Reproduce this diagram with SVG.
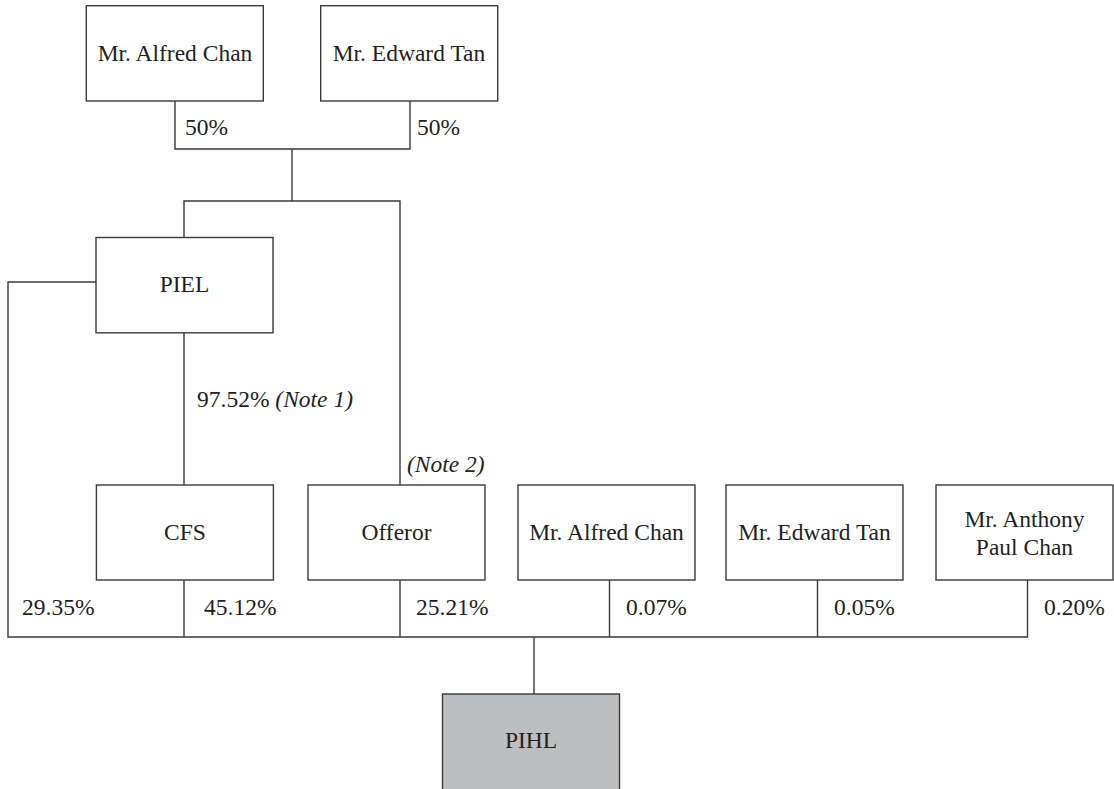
<svg xmlns="http://www.w3.org/2000/svg" width="1114" height="789" viewBox="0 0 1114 789">
<style>
.box{fill:#fff;stroke:#3a3a3a;stroke-width:1.4}
.hl{fill:#bcbec0}
.t{font-family:"Liberation Serif",serif;font-size:23.5px;fill:#231f20}
.m{text-anchor:middle}
.i{font-style:italic}
.c{fill:none;stroke:#3a3a3a;stroke-width:1.4}
</style>
<rect width="1114" height="789" fill="#fff"/>
<g id="connectors" class="c">
<polyline points="175,101 175,149 410,149 410,101"/>
<line x1="292" y1="149" x2="292" y2="201"/>
<polyline points="184,237.5 184,201 400,201 400,485"/>
<polyline points="96,282 8,282 8,637 1027.5,637 1027.5,580"/>
<line x1="184" y1="333" x2="184" y2="485"/>
<line x1="184" y1="580" x2="184" y2="637"/>
<line x1="400" y1="580" x2="400" y2="637"/>
<line x1="609.5" y1="580" x2="609.5" y2="637"/>
<line x1="817.5" y1="580" x2="817.5" y2="637"/>
<line x1="534" y1="637" x2="534" y2="694"/>
</g>
<g id="labels" class="t">
<text x="185" y="135">50%</text>
<text x="417" y="135">50%</text>
<text x="197" y="407">97.52% <tspan class="i">(Note 1)</tspan></text>
<text x="407" y="472" class="i">(Note 2)</text>
<text x="22" y="615">29.35%</text>
<text x="204" y="615">45.12%</text>
<text x="416" y="615">25.21%</text>
<text x="626" y="615">0.07%</text>
<text x="834" y="615">0.05%</text>
<text x="1044" y="615">0.20%</text>
</g>
<g id="n-alfred-top"><rect class="box" x="86.3" y="5.7" width="177" height="95.3"/><text class="t m" x="175" y="61">Mr. Alfred Chan</text></g>
<g id="n-edward-top"><rect class="box" x="320.7" y="5.7" width="177" height="95.3"/><text class="t m" x="409" y="61">Mr. Edward Tan</text></g>
<g id="n-piel"><rect class="box" x="96" y="237.5" width="177" height="95.3"/><text class="t m" x="184.5" y="292">PIEL</text></g>
<g id="n-cfs"><rect class="box" x="96.4" y="485" width="177" height="95"/><text class="t m" x="185" y="540">CFS</text></g>
<g id="n-offeror"><rect class="box" x="308" y="485" width="177" height="95"/><text class="t m" x="396.5" y="540">Offeror</text></g>
<g id="n-alfred"><rect class="box" x="518" y="485" width="177" height="95"/><text class="t m" x="606.5" y="540">Mr. Alfred Chan</text></g>
<g id="n-edward"><rect class="box" x="726" y="485" width="177" height="95"/><text class="t m" x="814.5" y="540">Mr. Edward Tan</text></g>
<g id="n-anthony"><rect class="box" x="936" y="485" width="177" height="95"/><text class="t m" x="1024.5" y="527">Mr. Anthony</text><text class="t m" x="1024.5" y="555">Paul Chan</text></g>
<g id="n-pihl"><rect class="box hl" x="442.5" y="694" width="177" height="96"/><text class="t m" x="531" y="748">PIHL</text></g>
</svg>
